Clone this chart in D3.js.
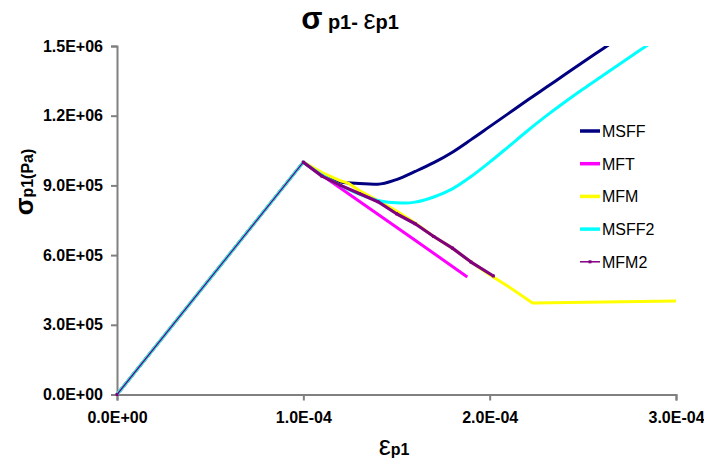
<!DOCTYPE html>
<html><head><meta charset="utf-8">
<script src="https://cdn.jsdelivr.net/npm/d3@7/dist/d3.min.js"></script>
<style>
body{margin:0;background:#fff;}
text{font-family:"Liberation Sans",Arial,sans-serif;}
</style></head>
<body><svg id="c" width="704" height="462"></svg>
<script>
const seriesNames = ["MSFF","MFT","MFM","MSFF2","MFM2"];
const seriesColors = ["#000080","#FF00FF","#FFFF00","#00FFFF","#800080"];

const msffX = [0,1.0e-4,1.1e-4,1.2e-4,1.3e-4,1.4e-4,1.5e-4,1.6e-4,1.7e-4,1.8e-4,1.9e-4,2.0e-4,2.1e-4,2.2e-4,2.3e-4,2.4e-4,2.5e-4,2.6e-4,2.7e-4];
const msffY = [0,1.0e6,9.5e5,9.15e5,9.08e5,9.05e5,9.25e5,9.6e5,9.98e5,1.043e6,1.097e6,1.153e6,1.209e6,1.265e6,1.32e6,1.375e6,1.43e6,1.484e6,1.538e6];

const mftX = [0,1.0e-4,1.2e-4,1.4e-4,1.6e-4,1.88e-4];
const mftY = [0,1.0e6,8.88e5,7.76e5,6.64e5,5.06e5];

const mfmX = [0,1.0e-4,1.1e-4,1.2e-4,1.24e-4,1.3e-4,1.4e-4,1.5e-4,1.6e-4,1.7e-4,1.8e-4,1.9e-4,2.0e-4,2.1e-4,2.23e-4,3.0e-4];
const mfmY = [0,1.0e6,9.55e5,9.2e5,9.1e5,8.78e5,8.35e5,7.9e5,7.38e5,6.8e5,6.3e5,5.7e5,5.15e5,4.65e5,3.94e5,4.02e5];

const msff2X = [0,1.0e-4,1.1e-4,1.2e-4,1.3e-4,1.4e-4,1.5e-4,1.55e-4,1.6e-4,1.7e-4,1.8e-4,1.9e-4,2.0e-4,2.1e-4,2.2e-4,2.3e-4,2.4e-4,2.5e-4,2.6e-4,2.7e-4,2.8e-4,2.9e-4];
const msff2Y = [0,1.0e6,9.45e5,9.0e5,8.62e5,8.35e5,8.25e5,8.24e5,8.28e5,8.5e5,8.85e5,9.38e5,1.0e6,1.066e6,1.133e6,1.197e6,1.257e6,1.314e6,1.369e6,1.424e6,1.478e6,1.532e6];

const mfm2X = [0,1.0e-4,1.1e-4,1.2e-4,1.3e-4,1.4e-4,1.5e-4,1.6e-4,1.7e-4,1.8e-4,1.9e-4,2.02e-4];
const mfm2Y = [0,1.0e6,9.4e5,9.0e5,8.65e5,8.3e5,7.78e5,7.35e5,6.8e5,6.3e5,5.7e5,5.1e5];

const xTicks = [0,1e-4,2e-4,3e-4];
const xTickLabels = ["0.0E+00","1.0E-04","2.0E-04","3.0E-04"];
const yTicks = [0,3e5,6e5,9e5,1.2e6,1.5e6];
const yTickLabels = ["0.0E+00","3.0E+05","6.0E+05","9.0E+05","1.2E+06","1.5E+06"];

const seriesX = [msffX,mftX,mfmX,msff2X,mfm2X];
const seriesY = [msffY,mftY,mfmY,msff2Y,mfm2Y];
const smoothSeries = ["MSFF","MSFF2"];

const svg = d3.select("#c");
const L = 117, R = 676, T = 46, B = 394.5;
const x = d3.scaleLinear().domain([0,3e-4]).range([L,R]);
const y = d3.scaleLinear().domain([0,1.5e6]).range([B,T]);

svg.append("defs").append("clipPath").attr("id","clip")
  .append("rect").attr("x",L-2).attr("y",T).attr("width",R-L+4).attr("height",B-T+2);

// axes
const axisColor = "#808080";
const gx = svg.append("g").attr("transform",`translate(0,${B})`)
  .call(d3.axisBottom(x).tickValues(xTicks).tickFormat((d,i)=>xTickLabels[i]).tickSizeOuter(0).tickSize(6).tickPadding(11));
const gy = svg.append("g").attr("transform",`translate(${L},0)`)
  .call(d3.axisLeft(y).tickValues(yTicks).tickFormat((d,i)=>yTickLabels[i]).tickSizeOuter(0).tickSize(6).tickPadding(8));
[gx,gy].forEach(g=>{
  g.selectAll("path,line").attr("stroke",axisColor).attr("stroke-width",2);
  g.selectAll("text").attr("font-size",16).attr("font-weight","bold").attr("fill","#000")
   .attr("font-family","'Liberation Sans',Arial,sans-serif");
});

// lines
const plot = svg.append("g").attr("clip-path","url(#clip)");
const line = d3.line().x(d=>x(d[0])).y(d=>y(d[1]));
const smooth = d3.line().x(d=>x(d[0])).y(d=>y(d[1])).curve(d3.curveMonotoneX);
function pathFor(name, pts){
  if(smoothSeries.includes(name)){
    const ramp = pts.filter(p=>p[0]<=1e-4);
    const rest = pts.filter(p=>p[0]>=1e-4);
    return line(ramp) + "L" + smooth(rest).slice(1);
  }
  return line(pts);
}
seriesNames.forEach((name,i)=>{
  const pts = seriesX[i].map((v,j)=>[v,seriesY[i][j]]);
  if(name==="MFM2"){
    plot.append("path").attr("d",line(pts)).attr("fill","none")
      .attr("stroke",seriesColors[i]).attr("stroke-width",1.2);
    const thick = pts.filter(p=>p[0]>=1e-4);
    plot.append("path").attr("d",line(thick)).attr("fill","none")
      .attr("stroke",seriesColors[i]).attr("stroke-width",3.2).attr("stroke-linejoin","round");
    plot.selectAll(null).data(pts).enter().append("rect")
      .attr("x",d=>x(d[0])-1.5).attr("y",d=>y(d[1])-1.5).attr("width",3).attr("height",3)
      .attr("fill",seriesColors[i]);
  } else {
    plot.append("path").attr("d",pathFor(name,pts)).attr("fill","none")
      .attr("stroke",seriesColors[i]).attr("stroke-width",3).attr("stroke-linejoin","round");
  }
});

// legend
const leg = svg.append("g");
seriesNames.forEach((name,i)=>{
  const ly = 131 + i*32.7;
  leg.append("line").attr("x1",580).attr("x2",600).attr("y1",ly).attr("y2",ly)
    .attr("stroke",seriesColors[i]).attr("stroke-width",name==="MFM2"?1.5:3.5);
  if(name==="MFM2"){
    leg.append("rect").attr("x",588.5).attr("y",ly-1.5).attr("width",3).attr("height",3).attr("fill",seriesColors[i]);
  }
  leg.append("text").attr("x",602).attr("y",ly+6).attr("font-size",16).attr("fill","#000").text(name);
});

// title
const title = svg.append("text").attr("x",350).attr("y",29).attr("text-anchor","middle")
  .attr("font-weight","bold").attr("fill","#000");
title.append("tspan").attr("font-size",31).text("σ");
title.append("tspan").attr("font-size",20).text(" p1- ");
title.append("tspan").attr("font-size",27).attr("font-weight","normal").text("ε");
title.append("tspan").attr("font-size",20).text("p1");

// x label
const xl = svg.append("text").attr("x",394).attr("y",455).attr("text-anchor","middle").attr("fill","#000").attr("font-weight","bold");
xl.append("tspan").attr("font-size",27).attr("font-weight","normal").text("ε");
xl.append("tspan").attr("font-size",16).text("p1");

// y label
const yl = svg.append("text").attr("transform","translate(33,182) rotate(-90)").attr("text-anchor","middle")
  .attr("fill","#000").attr("font-weight","bold");
yl.append("tspan").attr("font-size",26).text("σ");
yl.append("tspan").attr("font-size",16).text("p1(Pa)");
</script></body></html>
